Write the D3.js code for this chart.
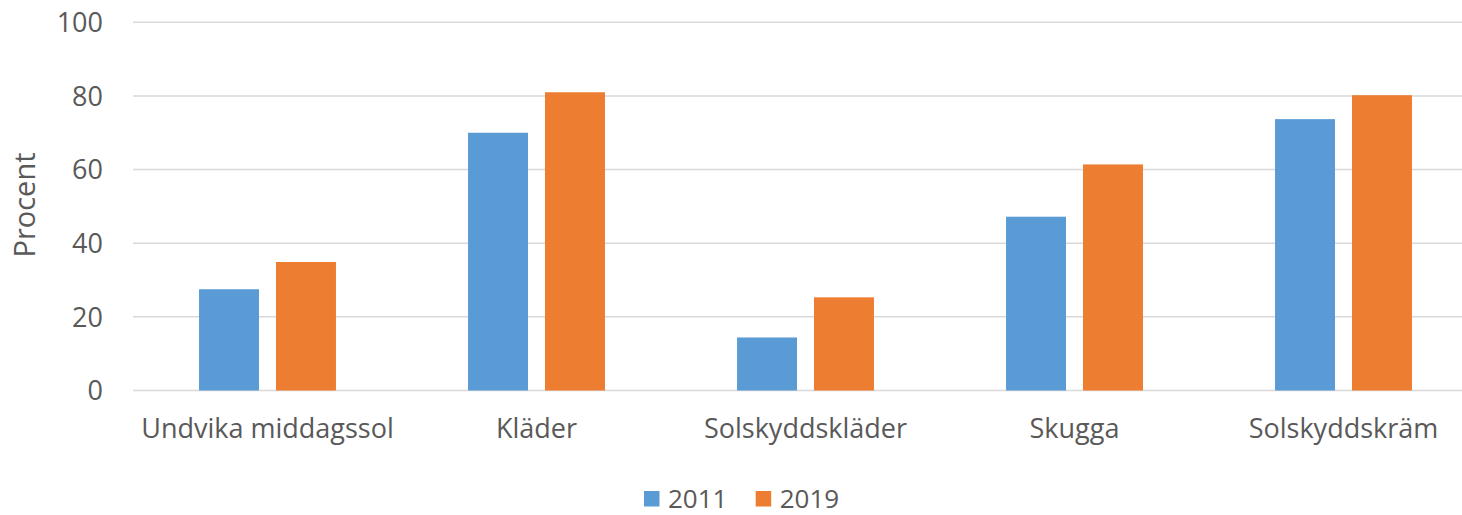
<!DOCTYPE html>
<html>
<head>
<meta charset="utf-8">
<script src="https://cdn.jsdelivr.net/npm/d3@7"></script>
<style>
  body { margin: 0; background: #fff; }
  text { font-family: "Open Sans", sans-serif; fill: #595959; }
</style>
</head>
<body>
<div id="chart"></div>
<script>
// Data
const categories = ["Undvika middagssol", "Kläder", "Solskyddskläder", "Skugga", "Solskyddskräm"];
const series = ["2011", "2019"];
const values2011 = [27.5, 70, 14.4, 47.2, 73.7];
const values2019 = [34.9, 81, 25.3, 61.4, 80.2];
const yTicks = [0, 20, 40, 60, 80, 100];
const colors = ["#5B9BD5", "#ED7D31"];

const W = 1462, H = 515;
const plot = { left: 133, right: 1478, top: 22.3, bottom: 390.5 };

const svg = d3.select("#chart").append("svg")
    .attr("width", W)
    .attr("height", H);

// Scales
const x0 = d3.scaleBand()
    .domain(categories)
    .range([plot.left, plot.right])
    .paddingInner(0.491)
    .paddingOuter(0.2455);

const x1 = d3.scaleBand()
    .domain(series)
    .range([0, x0.bandwidth()])
    .paddingInner(0.2208);

const y = d3.scaleLinear().domain([0, 100]).range([plot.bottom, plot.top]);

// Gridlines
svg.append("g")
    .selectAll("line")
    .data(yTicks)
    .join("line")
    .attr("x1", plot.left)
    .attr("x2", W)
    .attr("y1", d => y(d))
    .attr("y2", d => y(d))
    .attr("stroke", "#d9d9d9")
    .attr("stroke-width", 1.5);

// Y tick labels
svg.append("g")
    .selectAll("text")
    .data(yTicks)
    .join("text")
    .attr("x", 103)
    .attr("y", d => y(d))
    .attr("dy", "0.36em")
    .attr("text-anchor", "end")
    .style("font-size", "27px")
    .text(d => d);

// Y axis title
svg.append("text")
    .attr("transform", "translate(35,205) rotate(-90)")
    .attr("text-anchor", "middle")
    .style("font-size", "29px")
    .text("Procent");

// Bars
const rows = categories.map((c, i) => ({ cat: c, vals: [values2011[i], values2019[i]] }));

const groups = svg.append("g")
    .selectAll("g")
    .data(rows)
    .join("g")
    .attr("transform", d => `translate(${x0(d.cat)},0)`);

groups.selectAll("rect")
    .data(d => d.vals.map((v, j) => ({ key: series[j], value: v, j })))
    .join("rect")
    .attr("x", d => x1(d.key))
    .attr("y", d => y(d.value))
    .attr("width", x1.bandwidth())
    .attr("height", d => y(0) - y(d.value))
    .attr("fill", d => colors[d.j]);

// Category labels
svg.append("g")
    .selectAll("text")
    .data(categories)
    .join("text")
    .attr("x", d => x0(d) + x0.bandwidth() / 2)
    .attr("y", 438)
    .attr("text-anchor", "middle")
    .style("font-size", "27px")
    .text(d => d);

// Legend
const legendX = [644, 755.7];
const legend = svg.append("g")
    .selectAll("g")
    .data(series)
    .join("g")
    .attr("transform", (d, i) => `translate(${legendX[i]},491)`);

legend.append("rect")
    .attr("width", 15.5)
    .attr("height", 15.5)
    .attr("fill", (d, i) => colors[i]);

legend.append("text")
    .attr("x", 24)
    .attr("y", 8)
    .attr("dy", "0.36em")
    .style("font-size", "26px")
    .text(d => d);
</script>
</body>
</html>
